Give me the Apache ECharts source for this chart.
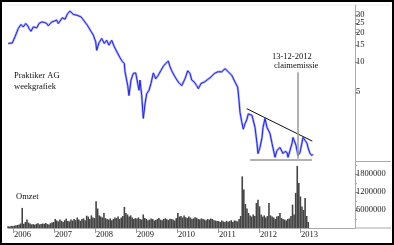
<!DOCTYPE html>
<html><head><meta charset="utf-8">
<script src="https://cdn.jsdelivr.net/npm/echarts@6.0.0/dist/echarts.min.js"></script>
<style>html,body{margin:0;padding:0;background:#fff}#c{width:394px;height:245px}</style>
</head><body><div id="c"></div>
<script>
// ---- data (time in decimal years) ----
const priceTimes = [
2005.885,2005.983,2006.049,2006.129,2006.195,2006.251,2006.310,2006.359,2006.390,2006.439,
2006.495,2006.578,2006.634,2006.700,2006.763,2006.822,2006.861,2006.944,2007.007,2007.066,
2007.105,2007.146,2007.202,2007.268,2007.334,2007.390,2007.432,2007.471,2007.512,2007.554,
2007.593,2007.659,2007.739,2007.822,2007.902,2007.959,2008.017,2008.041,2008.098,2008.163,
2008.227,2008.285,2008.341,2008.407,2008.471,2008.554,2008.610,2008.666,2008.715,2008.732,
2008.798,2008.829,2008.878,2008.934,2008.993,2009.041,2009.073,2009.098,2009.139,2009.178,
2009.220,2009.261,2009.317,2009.366,2009.422,2009.480,2009.544,2009.610,2009.666,2009.724,
2009.788,2009.829,2009.871,2009.951,2010.032,2010.115,2010.195,2010.261,2010.317,2010.359,
2010.422,2010.480,2010.520,2010.585,2010.666,2010.749,2010.829,2010.910,2010.993,2011.090,
2011.171,2011.251,2011.334,2011.415,2011.480,2011.512,2011.537,2011.578,2011.617,2011.659,
2011.700,2011.739,2011.780,2011.829,2011.902,2011.951,2011.976,2012.024,2012.073,2012.098,
2012.146,2012.195,2012.268,2012.317,2012.390,2012.439,2012.512,2012.585,2012.634,2012.683,
2012.707,2012.756,2012.805,2012.829,2012.902,2012.951,2013.000,2013.073,2013.122,2013.171,
2013.195,2013.244,2013.293,2013.317];
const priceValues = [
15.5,15.7,18.1,22.0,24.1,22.8,24.7,23.4,22.0,20.6,
22.8,22.3,24.7,25.6,25.3,24.7,23.4,25.6,26.1,26.7,
24.7,26.1,28.2,27.3,31.2,32.9,31.9,30.5,31.9,30.0,
31.2,28.8,26.1,23.4,20.6,18.8,16.1,13.2,15.8,17.4,
15.5,16.7,14.9,16.7,14.3,12.3,11.1,10.2,9.7,8.0,
5.8,4.6,6.6,7.7,7.8,6.1,5.2,6.6,4.6,2.7,
3.8,4.8,5.2,6.1,7.8,6.8,7.4,8.3,9.1,9.7,
10.3,9.0,8.2,7.1,6.3,5.8,6.8,8.2,7.7,6.6,
6.3,5.8,5.4,6.1,6.3,6.7,7.1,7.7,8.0,8.0,
8.6,8.0,7.4,6.3,5.6,4.1,3.1,2.5,2.1,2.4,
2.6,3.0,3.11,2.90,2.19,1.51,1.19,1.37,1.73,2.19,
2.70,2.19,1.90,1.51,1.09,1.28,1.37,1.19,1.25,1.22,
1.09,1.28,1.51,1.73,1.44,1.14,1.22,1.73,1.62,1.51,
1.37,1.19,1.14,1.17];

const volumeStart = 2005.880;      // first fortnightly bar
const volumeStepYears = 14/365.25; // fortnightly sampling
const volumeValues = [
60,50,70,60,
80,90,100,120,150,670,140,200,280,180,150,120,130,110,140,160,120,130,150,140,170,130,120,160,180,200,
300,250,220,280,240,200,260,310,230,220,280,250,300,260,350,280,240,300,320,260,410,380,300,420,350,330,
890,650,420,380,350,500,330,300,280,320,260,300,350,330,380,300,350,400,700,500,450,380,420,350,300,330,
320,350,300,280,450,330,300,260,280,320,300,250,270,300,330,280,260,300,320,290,270,310,300,280,250,330,
500,380,400,350,420,360,330,380,350,300,320,360,340,300,280,320,300,280,260,300,280,320,300,260,250,230,
230,200,250,220,200,240,210,230,260,200,250,240,220,300,400,1720,1280,800,650,500,420,380,450,400,830,940,
720,450,380,420,350,400,830,420,380,350,300,380,400,500,330,300,280,250,300,320,400,780,450,1170,2070,1500,
1050,720,600,1000,400,200];
const volumeUnit = 1000;

const yearTicks = [2006,2007,2008,2009,2010,2011,2012,2013];
const yearLabels = ['2006','2007','2008','2009','2010','2011','2012','2013'];
const priceTicks = [5,10,15,20,25,30];
const priceTickLabels = ['5','10','15','20','25','30'];
const volumeTicks = [600000,1200000,1800000];
const volumeTickLabels = ['6000000','1200000','1800000'];
const volumeMinorTicks = [300000,900000,1500000,2100000];

const trendLine = [[2011.700,3.39],[2013.300,1.59]];
const supportLine = [[2011.780,1.04],[2013.293,1.04]];
const claimLine = [[2012.950,7.9],[2012.950,1.06]];

const titleLines = ['Praktiker AG','weekgrafiek'];
const claimText = ['13-12-2012','claimemissie'];
const volumeTitle = 'Omzet';

// ---- build ----
const priceData = priceTimes.map((t,i)=>[t, priceValues[i]]);
const volumeData = volumeValues.map((v,i)=>[volumeStart + i*volumeStepYears, v*volumeUnit]);
const FONT = 'Liberation Serif';
const lbl = {fontFamily: FONT, fontSize: 8.5, color: '#222'};
const xMin = 2005.878, xMax = 2014.341;
const seg = (a, style) => [{coord:a[0], lineStyle:style},{coord:a[1]}];
const lookup = (ticks, labels) => v => {const i = ticks.findIndex(t=>Math.abs(t-v)<1e-6); return i>=0?labels[i]:'';};
// split the close-set price labels over two axes so none is dropped as overlapping
const priceTicksA = priceTicks.filter((_,i)=>i%2===0);
const priceTicksB = priceTicks.filter((_,i)=>i%2===1);
const priceAxis = (ticks, showLine) => ({gridIndex:0, type:'log', logBase:10, min:1, max:38, position:'right',
     axisLine:{show:showLine, lineStyle:{color:'#aaa'}},
     axisTick:{show:true, customValues:ticks, length:3, lineStyle:{color:'#888'}},
     axisLabel:{customValues:ticks, margin:1, showMinLabel:true, showMaxLabel:true, hideOverlap:false, ...lbl,
       formatter:lookup(priceTicks, priceTickLabels)},
     splitLine:{show:false}});

const chart = echarts.init(document.getElementById('c'), null, {renderer:'canvas'});
chart.setOption({
  animation:false,
  backgroundColor:'#fff',
  grid:[
    {left:8, right:39, top:5, height:156},
    {left:8, right:39, top:161, bottom:17}
  ],
  xAxis:[
    {gridIndex:0, type:'value', min:xMin, max:xMax, show:false, splitLine:{show:false}},
    {gridIndex:1, type:'value', min:xMin, max:xMax,
     axisLine:{show:true, lineStyle:{color:'#aaa', width:1}},
     axisTick:{show:true, customValues:yearTicks, length:5, lineStyle:{color:'#999'}},
     axisLabel:{customValues:yearTicks, align:'left', margin:2, padding:[0,0,0,1], showMinLabel:true, showMaxLabel:true, ...lbl,
       formatter:lookup(yearTicks, yearLabels)},
     splitLine:{show:false}}
  ],
  yAxis:[
    priceAxis(priceTicksA, true),
    {gridIndex:1, type:'value', min:0, max:2233000, position:'right',
     axisLine:{show:true, lineStyle:{color:'#aaa'}},
     axisTick:{show:true, customValues:volumeTicks, length:3, lineStyle:{color:'#888'}},
     axisLabel:{customValues:volumeTicks, margin:1, showMinLabel:true, showMaxLabel:true, ...lbl,
       formatter:lookup(volumeTicks, volumeTickLabels)},
     splitLine:{show:false}},
    {gridIndex:1, type:'value', min:0, max:2233000, position:'right',
     axisLine:{show:false},
     axisTick:{show:true, customValues:volumeMinorTicks, length:2, lineStyle:{color:'#aaa'}},
     axisLabel:{show:false}, splitLine:{show:false}},
    priceAxis(priceTicksB, false)
  ],
  series:[
    {type:'line', xAxisIndex:0, yAxisIndex:0, data:priceData, symbol:'none',
     lineStyle:{color:'#aab0f4', width:2.4}, silent:true, z:2},
    {type:'line', xAxisIndex:0, yAxisIndex:0, data:priceData, symbol:'none',
     lineStyle:{color:'#2626cc', width:1}, z:3,
     markLine:{symbol:'none', silent:true, label:{show:false},
       data:[
         seg(trendLine, {color:'#111', width:1, type:'solid'}),
         seg(supportLine, {color:'#999', width:1.5, type:'solid'}),
         seg(claimLine, {color:'#999', width:1.5, type:'solid'})
       ]}},
    {type:'bar', xAxisIndex:1, yAxisIndex:1, data:volumeData, barWidth:1.6,
     itemStyle:{color:'#444'}}
  ],
  graphic:[
    {type:'text', left:14, top:70, style:{text:titleLines.join('\n'), font:'8.5px '+FONT, fill:'#111', lineHeight:11}},
    {type:'text', left:16, top:192, style:{text:volumeTitle, font:'8.5px '+FONT, fill:'#111'}},
    {type:'text', left:272, top:52, style:{text:claimText[0], font:'8.5px '+FONT, fill:'#111'}},
    {type:'text', left:274, top:61, style:{text:claimText[1], font:'8.5px '+FONT, fill:'#111'}},
    {type:'line', shape:{x1:8, y1:5, x2:390, y2:5}, style:{stroke:'#eee', lineWidth:1}},
    {type:'line', shape:{x1:355, y1:161.5, x2:391, y2:161.5}, style:{stroke:'#aaa', lineWidth:1}},
    {type:'line', shape:{x1:355, y1:228, x2:391, y2:228}, style:{stroke:'#aaa', lineWidth:1}},
    {type:'rect', shape:{x:1, y:1, width:392, height:243}, style:{fill:'none', stroke:'#000', lineWidth:2}, z:100}
  ]
});
</script></body></html>
